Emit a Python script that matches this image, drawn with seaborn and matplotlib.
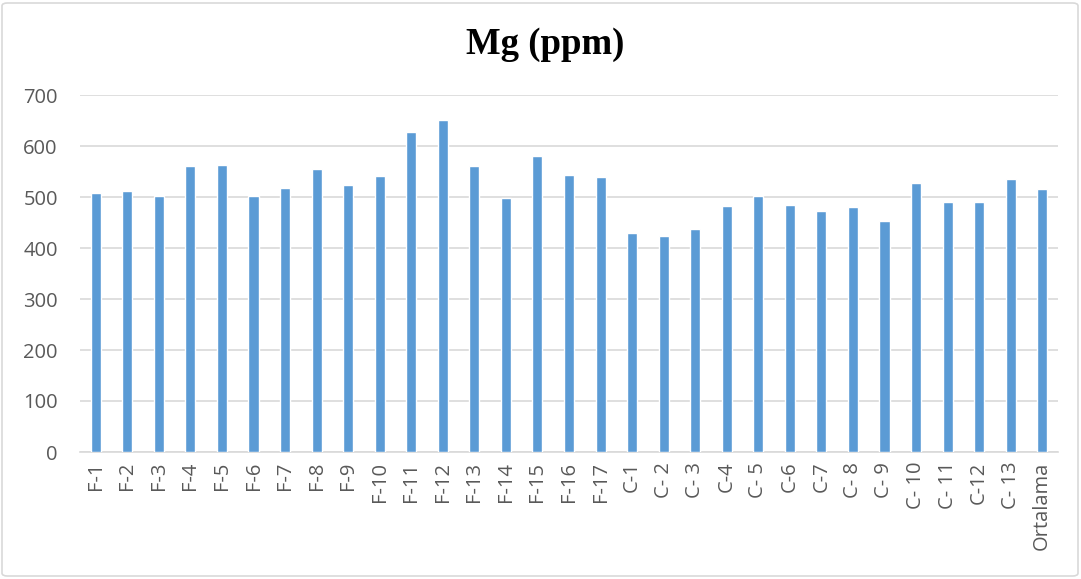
import matplotlib
matplotlib.use("Agg")
import matplotlib.pyplot as plt
from matplotlib.patches import FancyBboxPatch
import seaborn as sns
import pandas as pd

categories = ["F-1", "F-2", "F-3", "F-4", "F-5", "F-6", "F-7", "F-8", "F-9", "F-10",
              "F-11", "F-12", "F-13", "F-14", "F-15", "F-16", "F-17",
              "C-1", "C- 2", "C- 3", "C-4", "C- 5", "C-6", "C-7", "C- 8", "C- 9",
              "C- 10", "C- 11", "C-12", "C- 13", "Ortalama"]
values = [507, 512, 501, 560, 562, 502, 518, 554, 523, 541,
          628, 651, 560, 499, 580, 543, 540,
          430, 423, 438, 482, 501, 484, 473, 480, 453,
          528, 490, 491, 535, 516]
yticks = [0, 100, 200, 300, 400, 500, 600, 700]

df = pd.DataFrame({"cat": categories, "val": values})

sns.set_style("white")
plt.rcParams['font.family'] = ['DejaVu Sans']

fig = plt.figure(figsize=(10.81, 5.79), dpi=100)
ax = fig.add_axes([80/1081, 1 - 452/579, (1058-80)/1081, (452-95)/579])

sns.barplot(data=df, x="cat", y="val", color="#5B9BD5", width=0.32,
            saturation=1, ax=ax, zorder=3)

ax.set_ylim(0, 700)
ax.set_xlim(-0.5, len(categories) - 0.5)
ax.set_yticks(yticks)
ax.set_yticklabels([str(t) for t in yticks], fontsize=14.5, color="#595959",
                   family="Open Sans")
ax.set_xticks(range(len(categories)))
ax.set_xticklabels(categories, rotation=90, fontsize=14.5, color="#595959",
                   family="Open Sans")
ax.tick_params(axis="y", length=0, pad=16)
ax.tick_params(axis="x", length=0, pad=7)
ax.grid(axis="y", color="#D9D9D9", linewidth=1.2, zorder=0)
ax.set_axisbelow(True)
for s in ["top", "right", "left"]:
    ax.spines[s].set_visible(False)
ax.spines["bottom"].set_color("#D9D9D9")
ax.spines["bottom"].set_linewidth(1.2)
ax.set_xlabel("")
ax.set_ylabel("")

fig.text(545/1081, 1 - 44/579, "Mg (ppm)", ha="center", va="center",
         fontsize=26.5, fontweight="bold", family="Liberation Serif", color="black")

border = FancyBboxPatch((2/1081, 3/579), 1076/1081, 573/579,
                        boxstyle="round,pad=0,rounding_size=0.005",
                        transform=fig.transFigure, fill=False,
                        edgecolor="#D9D9D9", linewidth=1.2)
fig.patches.append(border)

fig.savefig("out.png", dpi=100)
